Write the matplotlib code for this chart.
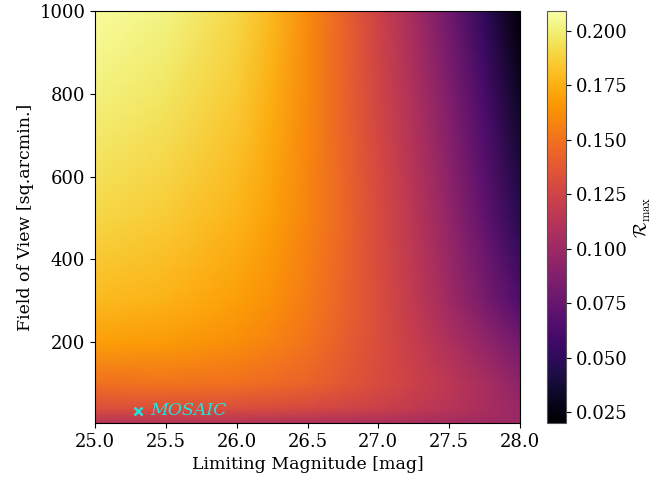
import numpy as np
import matplotlib
matplotlib.use("Agg")
import matplotlib.pyplot as plt

plt.rcParams["font.family"] = ["DejaVu Serif"]
plt.rcParams["mathtext.fontset"] = "cm"
plt.rcParams["font.size"] = 12.5

# Limiting magnitude grid [mag]
limiting_mag = [25.0, 25.5, 26.0, 26.25, 26.5, 26.75, 27.0, 27.25, 27.5, 27.75, 28.0]
# Field of view grid [sq.arcmin.]
field_of_view = [5, 40, 100, 200, 300, 500, 800, 1000]

# R_max on the (field_of_view, limiting_mag) grid, one row per field of view
r_fov_5 = [0.112, 0.112, 0.111, 0.110, 0.109, 0.108, 0.107, 0.105, 0.103, 0.101, 0.099]
r_fov_40 = [0.132, 0.132, 0.131, 0.130, 0.128, 0.125, 0.122, 0.118, 0.113, 0.106, 0.098]
r_fov_100 = [0.149, 0.150, 0.149, 0.146, 0.143, 0.137, 0.130, 0.123, 0.115, 0.105, 0.093]
r_fov_200 = [0.169, 0.167, 0.162, 0.157, 0.150, 0.141, 0.131, 0.120, 0.108, 0.095, 0.080]
r_fov_300 = [0.179, 0.176, 0.169, 0.163, 0.154, 0.143, 0.131, 0.117, 0.101, 0.083, 0.064]
r_fov_500 = [0.190, 0.186, 0.177, 0.169, 0.158, 0.145, 0.130, 0.114, 0.095, 0.072, 0.047]
r_fov_800 = [0.201, 0.196, 0.186, 0.175, 0.160, 0.143, 0.126, 0.108, 0.086, 0.060, 0.032]
r_fov_1000 = [0.207, 0.202, 0.190, 0.178, 0.161, 0.143, 0.124, 0.104, 0.079, 0.050, 0.021]

r_max = np.array([r_fov_5, r_fov_40, r_fov_100, r_fov_200,
                  r_fov_300, r_fov_500, r_fov_800, r_fov_1000])

# Existing instrument
mosaic_mag = 25.3
mosaic_fov = 35
mosaic_name = "MOSAIC"

fig = plt.figure(figsize=(6.71, 4.82), dpi=100)
ax = fig.add_axes([0.1416, 0.1224, 0.6334, 0.8546])
cax = fig.add_axes([0.8155, 0.1224, 0.028, 0.8546])

mesh = ax.pcolormesh(limiting_mag, field_of_view, r_max, shading="gouraud",
                     cmap="inferno", vmin=0.020, vmax=0.209)
ax.set_xlim(25.0, 28.0)
ax.set_ylim(5, 1000)
ax.set_xticks([25.0, 25.5, 26.0, 26.5, 27.0, 27.5, 28.0])
ax.set_yticks([200, 400, 600, 800, 1000])
ax.tick_params(labelsize=13)
ax.set_xlabel("Limiting Magnitude [mag]")
ax.set_ylabel("Field of View [sq.arcmin.]")

ax.plot([mosaic_mag], [mosaic_fov], marker="x", color="#1fe5e0",
        markersize=6, mew=1.8, linestyle="none")
ax.text(mosaic_mag + 0.09, mosaic_fov, mosaic_name, color="#1fe5e0",
        style="italic", fontsize=12.5, va="center", ha="left")

cb = fig.colorbar(mesh, cax=cax)
cb.set_ticks([0.025, 0.050, 0.075, 0.100, 0.125, 0.150, 0.175, 0.200])
cb.ax.yaxis.set_major_formatter(matplotlib.ticker.FormatStrFormatter("%.3f"))
cb.ax.tick_params(labelsize=13)
cb.set_label(r"$\mathcal{R}_{\max}$", fontsize=13)
cb.outline.set_edgecolor("#555555")

fig.savefig("out.png", dpi=100)
